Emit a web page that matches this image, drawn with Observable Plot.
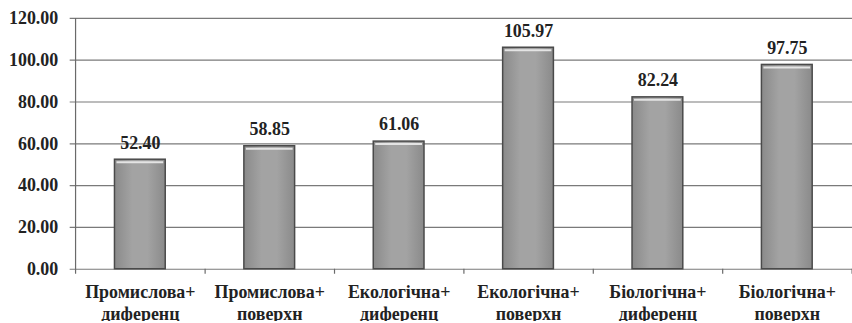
<!DOCTYPE html>
<html>
<head>
<meta charset="utf-8">
<script src="https://cdn.jsdelivr.net/npm/d3@7"></script>
<script src="https://cdn.jsdelivr.net/npm/@observablehq/plot@0.6"></script>
<style>
  html, body { margin: 0; padding: 0; background: #fff; overflow: hidden; }
  #chart svg { display: block; }
  #chart svg text { font-family: "Liberation Serif", "Times New Roman", serif !important; font-weight: bold; }
</style>
</head>
<body>
<div id="chart"></div>
<script>
const categories = [
  "Промислова+\nдиференц",
  "Промислова+\nповерхн",
  "Екологічна+\nдиференц",
  "Екологічна+\nповерхн",
  "Біологічна+\nдиференц",
  "Біологічна+\nповерхн"
];
const values = [52.40, 58.85, 61.06, 105.97, 82.24, 97.75];
const yTicks = [0, 20, 40, 60, 80, 100, 120];

const data = categories.map((c, i) => ({cat: c, v: values[i]}));

const W = 856, H = 323, mL = 75, mR = 0, mT = 18, mB = 53;
const step = (W - mL - mR) / categories.length;
const font = "Liberation Serif";
const pad = 0.61;

const chart = Plot.plot({
  width: W,
  height: H,
  marginLeft: mL,
  marginRight: mR,
  marginTop: mT,
  marginBottom: mB,
  style: {fontFamily: font, fontWeight: "bold", fontSize: "18px", color: "#222", background: "#fff"},
  x: {domain: categories, paddingInner: pad, paddingOuter: pad / 2, label: null, axis: null},
  y: {domain: [0, 120], label: null, axis: null},
  marks: [
    Plot.ruleY(yTicks, {stroke: "#7a7a7a", strokeWidth: 1.2, insetLeft: -5}),
    Plot.ruleX([categories[0]], {dx: -step / 2, y1: -2.4, y2: 120, stroke: "#6a6a6a", strokeWidth: 1.2}),
    Plot.ruleX(categories, {x: d => d, dx: step / 2, y1: -2.4, y2: 0, stroke: "#6a6a6a", strokeWidth: 1.2}),
    Plot.barY(data, {x: "cat", y: "v", fill: "url(#barGrad)", stroke: "#4a4a4a", strokeWidth: 1.5}),
    Plot.tickY(data, {x: "cat", y: "v", stroke: "#e4e4e4", strokeWidth: 2, dy: 2.5, inset: 2}),
    Plot.text(data, {x: "cat", y: "v", text: d => d.v.toFixed(2), dy: -17, fontSize: 18, fontFamily: font, fontWeight: "bold", fill: "#222"}),
    Plot.text(yTicks, {y: d => d, frameAnchor: "left", text: d => d.toFixed(2), dx: -17, textAnchor: "end", fontSize: 18, fontFamily: font, fontWeight: "bold", fill: "#222"}),
    Plot.text(categories, {x: d => d, y: 0, text: d => d, dy: 33, lineHeight: 1.22, fontSize: 18, fontFamily: font, fontWeight: "bold", fill: "#222"})
  ]
});

document.getElementById("chart").appendChild(chart);

const svg = d3.select(chart);
const defs = svg.insert("defs", ":first-child");
const g = defs.append("linearGradient").attr("id", "barGrad").attr("x1", 0).attr("y1", 0).attr("x2", 1).attr("y2", 0);
g.append("stop").attr("offset", "0%").attr("stop-color", "#8a8a8a");
g.append("stop").attr("offset", "35%").attr("stop-color", "#a3a3a3");
g.append("stop").attr("offset", "65%").attr("stop-color", "#a3a3a3");
g.append("stop").attr("offset", "100%").attr("stop-color", "#8a8a8a");
</script>
</body>
</html>
